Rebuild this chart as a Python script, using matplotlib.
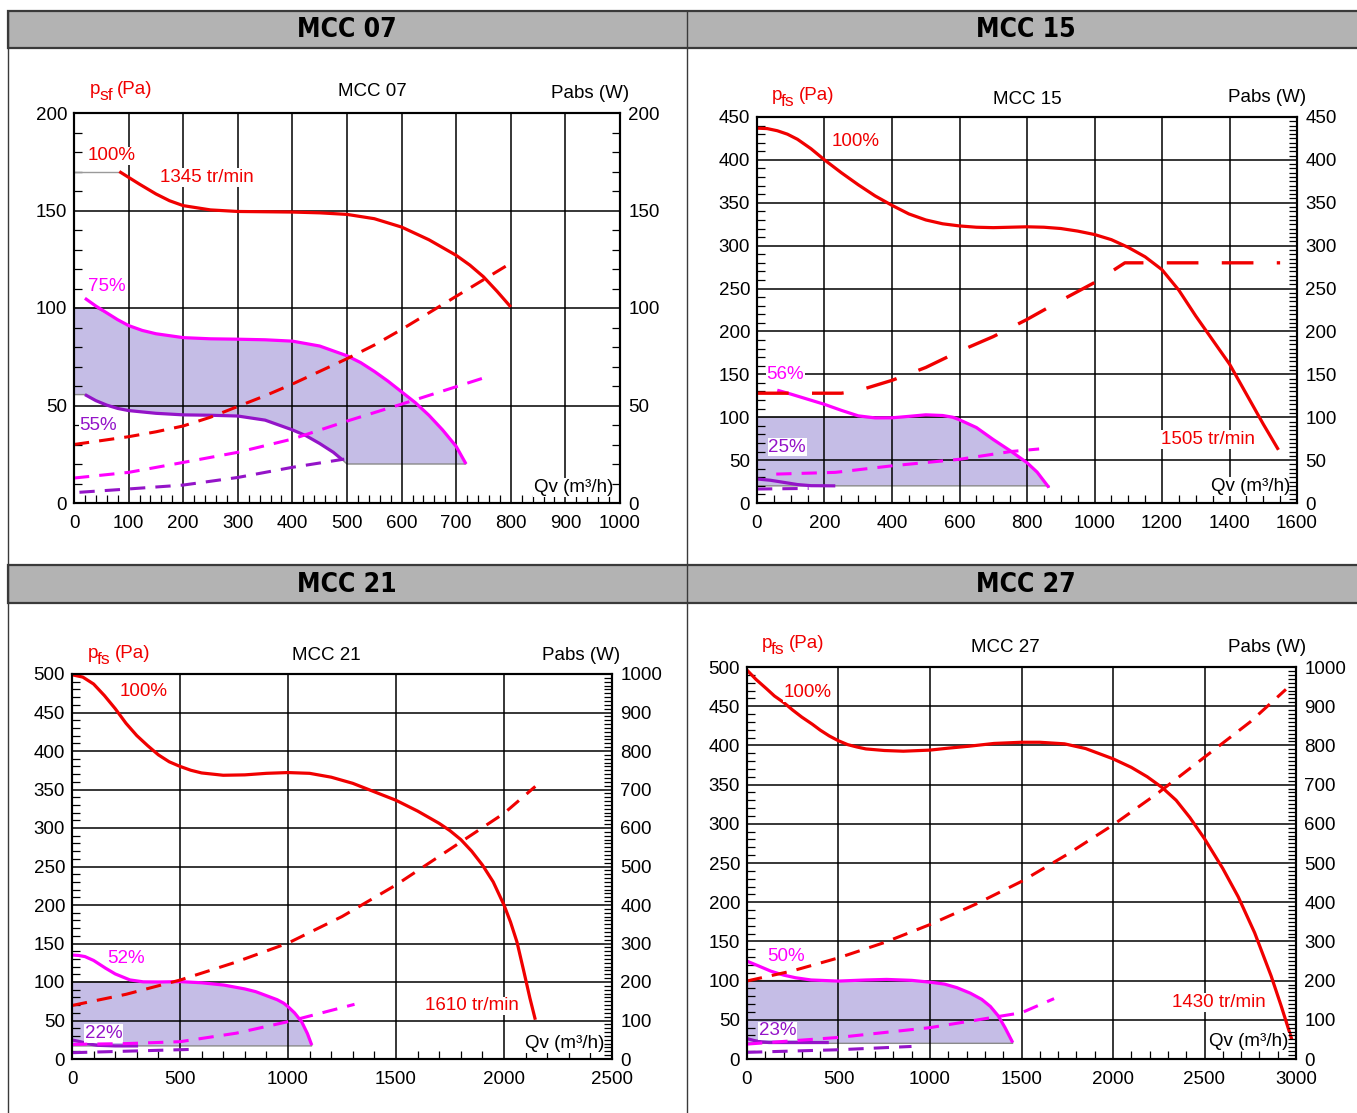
import numpy as np
import matplotlib.pyplot as plt
from matplotlib.patches import Rectangle
from matplotlib.ticker import MultipleLocator

plt.rcParams['font.family'] = ['Liberation Sans', 'DejaVu Sans']

W, H = 1357, 1113
RED = '#f00000'
MAG = '#ff00ff'
PUR = '#9414c8'
FILL = '#c5bde6'

# ---- MCC 07 (Pa et W sur la meme echelle 0-200)
m07_q100 = [83, 100, 120, 150, 175, 200, 250, 300, 400, 450, 500, 550, 600, 650, 700, 725, 750, 775, 800]
m07_p100 = [170, 167, 163.5, 158.5, 155, 152.5, 150.3, 149.5, 149.2, 148.8, 148, 145.8, 141.5, 135,
            127, 122, 116, 108.5, 100.5]
m07_qw100 = [0, 100, 150, 200, 250, 300, 350, 400, 450, 500, 550, 600, 650, 700, 750, 800]
m07_w100 = [30, 34, 36.5, 39.5, 44, 49.5, 55, 61, 67.5, 74, 81, 89, 97.5, 106, 114.5, 123]
m07_q75 = [20, 40, 60, 80, 100, 125, 150, 200, 250, 300, 350, 400, 450, 500, 525, 550, 575, 600,
           625, 650, 675, 700, 718]
m07_p75 = [105, 101, 97.5, 94, 91, 88.5, 86.8, 84.8, 84.2, 84, 83.7, 83, 80.5, 75.5, 72, 67.5,
           62.5, 57, 51.5, 45, 37.5, 29, 20]
m07_qw75 = [0, 100, 200, 300, 400, 500, 600, 760]
m07_w75 = [12.8, 15.7, 20.8, 26, 32.8, 42, 50.7, 65]
m07_q55 = [20, 40, 60, 80, 100, 150, 200, 250, 300, 350, 400, 425, 450, 475, 490]
m07_p55 = [55.6, 52.5, 50.2, 48.5, 47.4, 46, 45.2, 45, 44.6, 42.5, 37.5, 34.5, 30.5, 26, 22.5]
m07_qw55 = [10, 100, 200, 300, 400, 495]
m07_w55 = [5.5, 7.2, 9.2, 13.1, 18.3, 22.5]

# ---- MCC 15
m15_q100 = [0, 30, 60, 90, 120, 160, 200, 250, 300, 350, 400, 450, 500, 550, 600, 650, 700, 750,
            800, 850, 900, 950, 1000, 1050, 1100, 1150, 1200, 1250, 1300, 1350, 1400, 1450, 1500, 1545]
m15_p100 = [437, 436.5, 434, 430, 424, 413, 400, 385, 371, 358, 347, 337, 330, 325.5, 323, 321.5,
            321, 321.5, 322, 321.5, 320, 317, 313, 307, 298, 287, 272, 248, 218, 190, 162, 127, 92, 62]
m15_qw100 = [0, 250, 300, 400, 500, 600, 700, 800, 900, 1000, 1090, 1200, 1300, 1400, 1550]
m15_w100 = [128, 128, 131, 143, 158, 177, 194, 214, 236, 257, 280, 280, 280, 280, 280]
m15_q56 = [60, 100, 150, 200, 250, 300, 350, 400, 450, 500, 550, 580, 600, 650, 700, 750, 800, 830, 865]
m15_p56 = [131.5, 127, 121, 115, 108, 101.6, 99.2, 99.3, 101, 102.8, 102, 100, 97, 88, 74, 61, 47,
           36, 18]
m15_qw56 = [57, 232, 401, 601, 752, 836]
m15_w56 = [33.7, 35.7, 43.4, 51, 60, 63]
m15_q25 = [0, 40, 80, 120, 160, 232]
m15_p25 = [28, 26.5, 24, 21.5, 20.2, 20]
m15_qw25 = [0, 153]
m15_w25 = [16.3, 17]

# ---- MCC 21 (W sur 0-1000)
m21_q100 = [0, 50, 100, 150, 200, 250, 300, 350, 400, 450, 500, 550, 600, 700, 800, 900, 1000,
            1100, 1200, 1300, 1400, 1500, 1600, 1700, 1750, 1800, 1850, 1900, 1950, 2000, 2030,
            2060, 2090, 2120, 2145]
m21_p100 = [499, 496, 487, 472, 455, 436, 420, 407, 395, 386, 380, 375, 371.5, 368.5, 369, 371,
            372, 371, 366, 358, 347, 336, 322, 306, 296.5, 285, 270, 252, 230, 200, 178, 152,
            116, 79, 51]
m21_qw100 = [0, 250, 500, 750, 1000, 1250, 1500, 1750, 2000, 2145]
m21_w100 = [139, 168, 205, 250, 301, 370, 452, 545, 638, 708]
m21_q52 = [0, 30, 60, 100, 155, 200, 268, 330, 400, 501, 600, 703, 800, 850, 893, 950, 980, 1000,
           1030, 1063, 1090, 1110]
m21_p52 = [135, 134.5, 133, 128, 118, 110.5, 102.7, 100.2, 100, 100.5, 99, 96, 91, 87.5, 83, 77,
           72.5, 68, 60, 48.5, 33, 18]
m21_qw52 = [0, 250, 501, 760, 1000, 1308]
m21_w52 = [38, 40, 45, 67, 97, 142]
m21_q22 = [0, 30, 60, 90, 117, 200, 306]
m21_p22 = [24.7, 23, 21, 19, 17.8, 17, 17]
m21_qw22 = [0, 571]
m21_w22 = [16.4, 25.2]

# ---- MCC 27 (W sur 0-1000)
m27_q100 = [0, 50, 108, 150, 199, 250, 300, 357, 400, 450, 499, 550, 600, 650, 750, 854, 1000,
            1100, 1215, 1350, 1500, 1600, 1735, 1850, 1999, 2100, 2187, 2270, 2345, 2420, 2500,
            2600, 2684, 2774, 2864, 2920, 2977]
m27_p100 = [496, 484, 472, 463, 455, 445, 436, 427, 419.5, 412, 406, 401, 398, 395.5, 393.5,
            392.6, 394, 396.5, 399, 402.5, 404, 404, 402, 396, 383, 372, 360, 346, 330, 308, 281,
            243, 207, 161, 106, 67, 25]
m27_qw100 = [0, 250, 500, 750, 1000, 1250, 1500, 1750, 2000, 2250, 2500, 2750, 2945]
m27_w100 = [199, 225, 258, 297, 343, 395, 453, 522, 597, 680, 770, 860, 943]
m27_q50 = [0, 60, 131, 200, 266, 350, 499, 650, 763, 900, 1000, 1080, 1147, 1220, 1283, 1330,
           1373, 1410, 1452]
m27_p50 = [124.8, 119, 112, 107, 103.6, 100.8, 99.4, 100.8, 101.5, 100.3, 98, 95.5, 91, 84, 76,
           67, 55, 40, 21]
m27_qw50 = [0, 499, 1000, 1500, 1678]
m27_w50 = [38, 55, 80, 118, 154]
m27_q23 = [0, 40, 80, 120, 447]
m27_p23 = [26, 23.5, 21.8, 21, 21]
m27_qw23 = [0, 499, 899]
m27_w23 = [17, 23.6, 32]

fig = plt.figure(figsize=(W / 100, H / 100), dpi=100)

# fond : cadre du tableau et bandeaux gris
bg = fig.add_axes([0, 0, 1, 1])
bg.set_xlim(0, W)
bg.set_ylim(H, 0)
bg.axis('off')
for y0, y1 in [(11, 48), (565, 603)]:
    bg.add_patch(Rectangle((8, y0), W, y1 - y0, fc='#b3b3b3', ec='#3a3a3a', lw=1.6))
bg.plot([8, 8], [11, H], color='#3a3a3a', lw=1)
bg.plot([687, 687], [11, H], color='#3a3a3a', lw=1)
hdr = dict(family='DejaVu Sans', fontstretch='condensed', fontsize=19, fontweight='bold',
           ha='center', va='center')
bg.text(347, 30, 'MCC 07', **hdr)
bg.text(1026, 30, 'MCC 15', **hdr)
bg.text(347, 585, 'MCC 21', **hdr)
bg.text(1026, 585, 'MCC 27', **hdr)


def panel(box, xmax, xstep, xminor, ymax, ystep, yminor, wmax, wstep, wminor):
    l, r, t, b = box
    ax = fig.add_axes([l / W, 1 - b / H, (r - l) / W, (b - t) / H])
    ax.set_xlim(0, xmax)
    ax.set_ylim(0, ymax)
    ax.xaxis.set_major_locator(MultipleLocator(xstep))
    ax.xaxis.set_minor_locator(MultipleLocator(xminor))
    ax.yaxis.set_major_locator(MultipleLocator(ystep))
    ax.yaxis.set_minor_locator(MultipleLocator(yminor))
    ax.grid(True, which='major', color='black', lw=1.1)
    ax.tick_params(which='major', length=0, labelsize=13.5, pad=5)
    ax.tick_params(axis='x', which='major', pad=9)
    ax.tick_params(which='minor', direction='in', length=6, width=0.9, top=False)
    for s in ax.spines.values():
        s.set_linewidth(1.5)
    ax2 = ax.twinx()
    ax2.set_ylim(0, wmax)
    ax2.yaxis.set_major_locator(MultipleLocator(wstep))
    ax2.yaxis.set_minor_locator(MultipleLocator(wminor))
    ax2.tick_params(which='major', length=0, labelsize=13.5, pad=6)
    ax2.tick_params(which='minor', direction='in', length=6, width=0.9)
    for s in ax2.spines.values():
        s.set_linewidth(1.5)
    return ax, ax2


def shade(ax, qa, pa, qb, pb, end_q, floor):
    # zone grisee : sous la courbe haute (limitee a 100 Pa), au-dessus de la courbe basse
    qa = np.asarray(qa, float)
    pa = np.minimum(np.asarray(pa, float), 100)
    top_x = np.concatenate([[0], qa])
    top_y = np.concatenate([[100], pa])
    if qb is None:
        bot_x = np.array([end_q, 0])
        bot_y = np.array([floor, floor])
    else:
        bot_x = np.concatenate([[end_q, qb[-1] + 10], np.asarray(qb, float)[::-1], [0]])
        bot_y = np.concatenate([[floor, floor], np.asarray(pb, float)[::-1], [pb[0]]])
    ax.fill(np.concatenate([top_x, bot_x]), np.concatenate([top_y, bot_y]),
            fc=FILL, ec='#8a8a8a', lw=1, zorder=1)


def label(ax, x, y, s, c, ha='left'):
    ax.text(x, y, s, color=c, fontsize=13.5, ha=ha, va='center', zorder=4,
            bbox=dict(fc='white', ec='none', pad=0.5))


def top_texts(px, psub, mx, my, title, wx, wy):
    x0, y0 = px
    fig.text(x0 / W, 1 - y0 / H, 'p', color=RED, fontsize=13.5, ha='left', va='center')
    fig.text((x0 + 9) / W, 1 - (y0 + 6) / H, psub, color=RED, fontsize=12.5,
             ha='left', va='center')
    fig.text((x0 + 27) / W, 1 - y0 / H, '(Pa)', color=RED, fontsize=13.5, ha='left', va='center')
    fig.text(mx / W, 1 - my / H, title, fontsize=13.5, ha='center', va='center')
    fig.text(wx / W, 1 - wy / H, 'Pabs (W)', fontsize=13.5, ha='right', va='center')


SOL = dict(lw=2.3, solid_capstyle='butt', solid_joinstyle='round')
DASH = dict(lw=2.2, dashes=(5, 3.3), dash_capstyle='butt')

# ---------------- MCC 07
ax, ax2 = panel((74, 620, 113, 503), 1000, 100, 20, 200, 50, 10, 200, 50, 10)
shade(ax, m07_q75, m07_p75, m07_q55, m07_p55, 718, 20)
ax.plot([0, 83], [170, 170], color='#9a9a9a', lw=1, zorder=2)
ax.plot(m07_q100, m07_p100, color=RED, **SOL)
ax.plot(m07_q75, m07_p75, color=MAG, **SOL)
ax.plot(m07_q55, m07_p55, color=PUR, **SOL)
ax2.plot(m07_qw100, m07_w100, color=RED, **DASH)
ax2.plot(m07_qw75, m07_w75, color=MAG, **DASH)
ax2.plot(m07_qw55, m07_w55, color=PUR, **DASH)
label(ax, 25, 178, '100%', RED)
label(ax, 157, 167, '1345 tr/min', RED)
label(ax, 26, 111, '75%', MAG)
label(ax, 10, 39.5, '55%', PUR)
label(ax, 987, 8, 'Qv (m³/h)', 'black', ha='right')
top_texts((90, 90), 'sf', 372, 92, 'MCC 07', 629, 93)

# ---------------- MCC 15
ax, ax2 = panel((757, 1297, 117, 503), 1600, 200, 50, 450, 50, 10, 450, 50, 5)
shade(ax, m15_q56, m15_p56, None, None, 865, 20)
ax.plot(m15_q100, m15_p100, color=RED, **SOL)
ax.plot(m15_q56, m15_p56, color=MAG, **SOL)
ax.plot(m15_q25, m15_p25, color=PUR, **SOL)
ax2.plot(m15_qw100, m15_w100, color=RED, lw=2.4, dashes=(9.5, 7))
ax2.plot(m15_qw56, m15_w56, color=MAG, **DASH)
ax2.plot(m15_qw25, m15_w25, color=PUR, **DASH)
label(ax, 220, 421, '100%', RED)
label(ax, 28, 150, '56%', MAG)
label(ax, 34, 65, '25%', PUR)
label(ax, 1198, 74, '1505 tr/min', RED)
label(ax, 1580, 19, 'Qv (m³/h)', 'black', ha='right')
top_texts((772, 95), 'fs', 1027, 99, 'MCC 15', 1306, 97)

# ---------------- MCC 21
ax, ax2 = panel((72, 612, 674, 1059), 2500, 500, 100, 500, 50, 10, 1000, 100, 10)
shade(ax, m21_q52, m21_p52, None, None, 1110, 17)
ax.plot(m21_q100, m21_p100, color=RED, **SOL)
ax.plot(m21_q52, m21_p52, color=MAG, **SOL)
ax.plot(m21_q22, m21_p22, color=PUR, **SOL)
ax2.plot(m21_qw100, m21_w100, color=RED, **DASH)
ax2.plot(m21_qw52, m21_w52, color=MAG, **DASH)
ax2.plot(m21_qw22, m21_w22, color=PUR, **DASH)
label(ax, 221, 477, '100%', RED)
label(ax, 165, 131, '52%', MAG)
label(ax, 60, 33, '22%', PUR)
label(ax, 1636, 69, '1610 tr/min', RED)
label(ax, 2465, 20, 'Qv (m³/h)', 'black', ha='right')
top_texts((88, 653), 'fs', 326, 655, 'MCC 21', 620, 655)

# ---------------- MCC 27
ax, ax2 = panel((747, 1296, 667, 1059), 3000, 500, 100, 500, 50, 10, 1000, 100, 10)
shade(ax, m27_q50, m27_p50, None, None, 1452, 20)
ax.plot(m27_q100, m27_p100, color=RED, **SOL)
ax.plot(m27_q50, m27_p50, color=MAG, **SOL)
ax.plot(m27_q23, m27_p23, color=PUR, **SOL)
ax2.plot(m27_qw100, m27_w100, color=RED, **DASH)
ax2.plot(m27_qw50, m27_w50, color=MAG, **DASH)
ax2.plot(m27_qw23, m27_w23, color=PUR, **DASH)
label(ax, 199, 467, '100%', RED)
label(ax, 108, 131, '50%', MAG)
label(ax, 63, 36, '23%', PUR)
label(ax, 2322, 72, '1430 tr/min', RED)
label(ax, 2960, 22, 'Qv (m³/h)', 'black', ha='right')
top_texts((762, 643), 'fs', 1005, 647, 'MCC 27', 1306, 647)

fig.savefig('out.png', dpi=100)
